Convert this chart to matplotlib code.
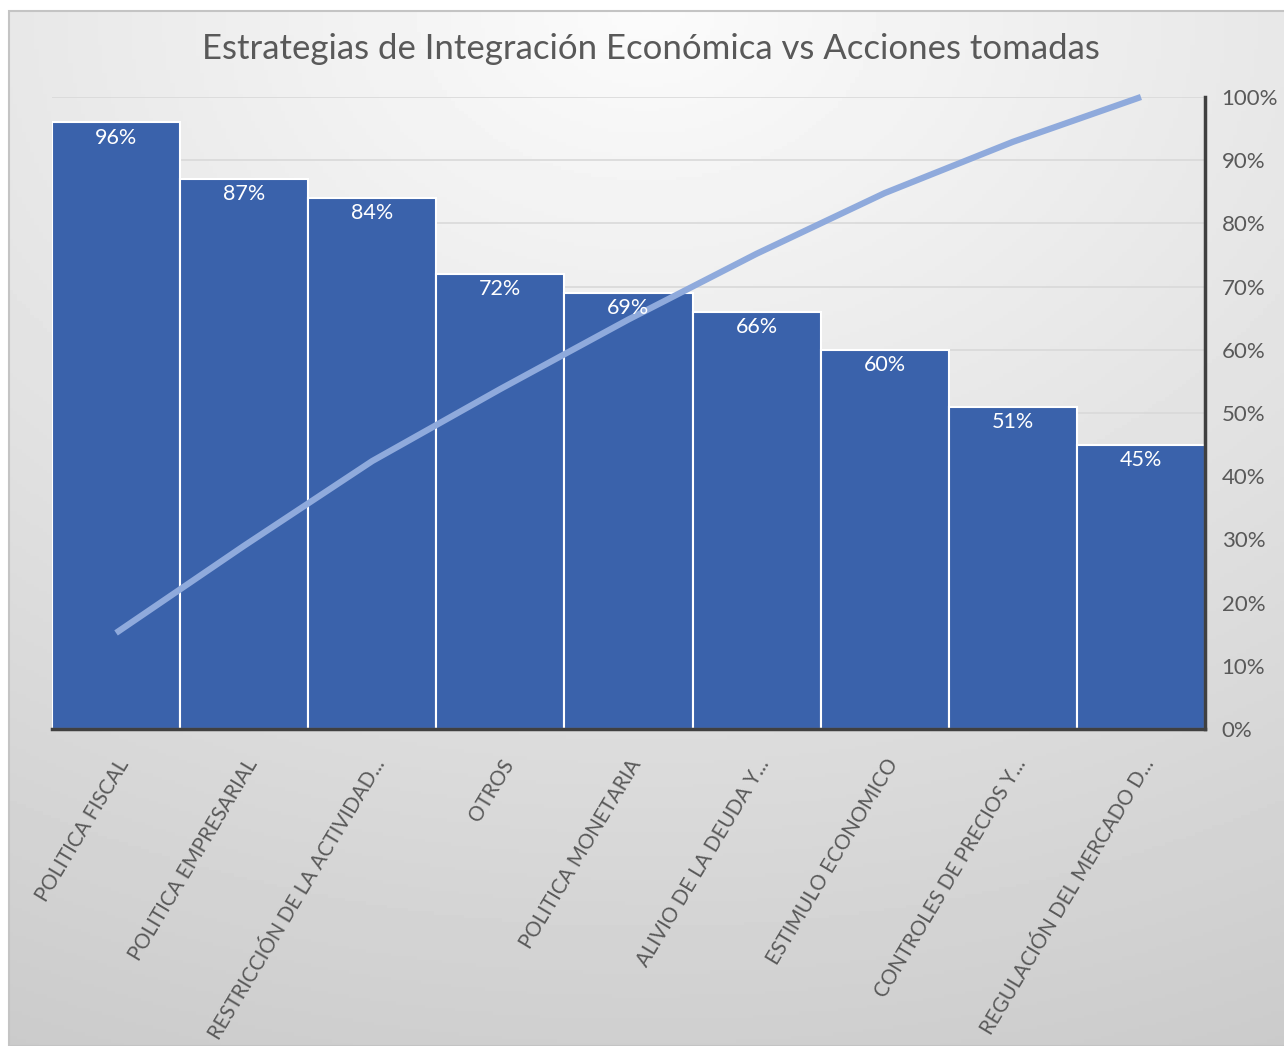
import matplotlib
matplotlib.use("Agg")
import matplotlib.pyplot as plt
import numpy as np
from matplotlib.patches import Rectangle
from matplotlib.ticker import FuncFormatter

CATEGORIES = [
    "POLITICA FISCAL",
    "POLITICA EMPRESARIAL",
    "RESTRICCIÓN DE LA ACTIVIDAD...",
    "OTROS",
    "POLITICA MONETARIA",
    "ALIVIO DE LA DEUDA Y...",
    "ESTIMULO ECONOMICO",
    "CONTROLES DE PRECIOS Y...",
    "REGULACIÓN DEL MERCADO D...",
]
VALUES = [96, 87, 84, 72, 69, 66, 60, 51, 45]
CUMULATIVE = [15.2, 29.0, 42.4, 53.8, 64.8, 75.2, 84.8, 92.9, 100.0]
TITLE = "Estrategias de Integración Económica vs Acciones tomadas"

BAR_COLOR = "#3A62AB"
LINE_COLOR = "#8FAADC"
TEXT_COLOR = "#595959"
FONT = ["Lato", "DejaVu Sans"]

W, H = 1284, 1046
fig = plt.figure(figsize=(W / 100, H / 100), dpi=100)
fig.patch.set_facecolor("white")

# gradient background of the chart frame
bg = fig.add_axes([9 / W, 0, 1 - 9 / W, 1 - 11 / H])
yy, xx = np.mgrid[0:1:300j, 0:1:300j]
dist = np.sqrt(((xx - 0.5) * 0.9) ** 2 + (yy * 1.0) ** 2)
shade = 0.985 - 0.19 * np.clip(dist, 0, 1.1) / 1.1
bg.imshow(shade, cmap="gray", vmin=0, vmax=1, aspect="auto", extent=[0, 1, 1, 0])
bg.set_axis_off()
fig.add_artist(Rectangle((9 / W, 0), 1, 1 - 11 / H, transform=fig.transFigure,
                         fill=False, edgecolor="#c4c4c4", linewidth=1.5))

ax = fig.add_axes([52 / W, 1 - 729 / H, (1205 - 52) / W, (729 - 97) / H])
ax.set_facecolor("none")
x = np.arange(len(CATEGORIES))
ax.bar(x, VALUES, width=1.0, color=BAR_COLOR, edgecolor="white", linewidth=1.5, zorder=2)
ax.plot(x, CUMULATIVE, color=LINE_COLOR, linewidth=4.5, solid_capstyle="butt", zorder=3, clip_on=False)

for xi, v in zip(x, VALUES):
    ax.annotate(f"{v}%", (xi, v), xytext=(0, -11), textcoords="offset points",
                ha="center", va="center", color="white", fontsize=15.5, family=FONT, zorder=4)

ax.set_xlim(-0.5, len(CATEGORIES) - 0.5)
ax.set_ylim(0, 100)
ax.yaxis.tick_right()
ax.set_yticks(np.arange(0, 101, 10))
ax.yaxis.set_major_formatter(FuncFormatter(lambda v, _: f"{int(v)}%"))
ax.tick_params(axis="y", length=0, pad=12, labelsize=16, labelcolor=TEXT_COLOR)
ax.grid(axis="y", color="#d9d9d9", linewidth=1.2, zorder=0)
ax.set_axisbelow(True)
for lab in ax.get_yticklabels():
    lab.set_family(FONT)

ax.set_xticks(x)
ax.set_xticklabels(CATEGORIES, rotation=59, ha="right", rotation_mode="anchor",
                   fontsize=14.8, color=TEXT_COLOR, family=FONT)
ax.tick_params(axis="x", length=0, pad=19)

for side in ["left", "top"]:
    ax.spines[side].set_visible(False)
ax.spines["bottom"].set_color("#404040")
ax.spines["bottom"].set_linewidth(2.5)
ax.spines["right"].set_color("#404040")
ax.spines["right"].set_linewidth(2.5)

fig.text(651 / W, 1 - 49 / H, TITLE, ha="center", va="center", fontsize=25,
         color=TEXT_COLOR, family=FONT)

fig.savefig("out.png", dpi=100)
